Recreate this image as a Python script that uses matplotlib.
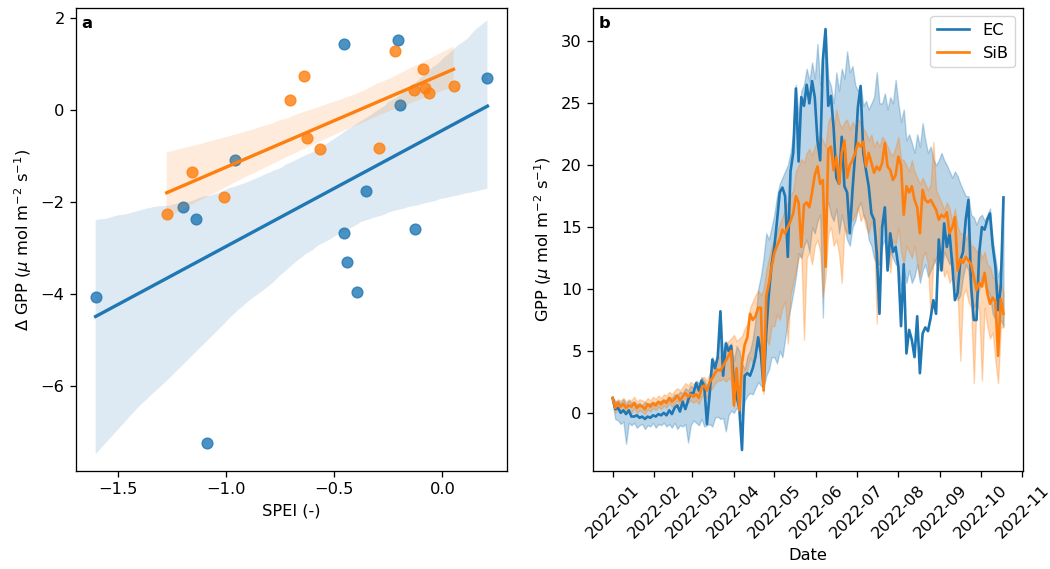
import matplotlib
matplotlib.use("Agg")
import numpy as np
import pandas as pd
import matplotlib.pyplot as plt
import matplotlib.dates as mdates
from matplotlib.ticker import MultipleLocator
import seaborn as sns

# ---------------- Panel a data ----------------
spei_ec = [-0.455, -0.208, 0.208, -0.196, -0.961, -1.20, -1.139, -0.355,
           -0.457, -0.128, -1.605, -0.44, -0.395, -1.089]
dgpp_ec = [1.43, 1.52, 0.70, 0.12, -1.09, -2.10, -2.37, -1.77,
           -2.68, -2.58, -4.06, -3.30, -3.96, -7.25]
spei_sib = [-1.276, -1.157, -1.012, -0.707, -0.640, -0.628, -0.566, -0.293,
            -0.221, -0.088, -0.133, -0.082, -0.062, 0.051]
dgpp_sib = [-2.25, -1.35, -1.89, 0.21, 0.74, -0.61, -0.85, -0.82,
            1.29, 0.90, 0.43, 0.49, 0.38, 0.52]

# ---------------- Panel b data (every 2 days from 2022-01-01) ----------------
start_date = "2022-01-01"
gpp_ec = [
    1.2, 0.3, 0.4, 0.0, 0.2, -0.1, 0.2, -0.3, -0.3, -0.2,
    -0.4, -0.3, -0.5, -0.3, -0.4, -0.2, -0.3, -0.1, -0.2, 0.0,
    -0.2, 0.2, -0.1, 0.4, 0.6, 0.1, 0.9, 0.3, 1.0, 1.6,
    1.6, 2.4, 1.8, 2.6, 2.2, -0.9, 1.5, 4.3, 3.6, 4.5,
    8.2, 3.0, 5.6, 5.0, 5.4, 2.4, 1.3, 0.4, -3.0, 3.0,
    3.2, 3.0, 3.6, 4.5, 6.1, 4.8, 2.1, 6.5, 9.7, 12.0,
    13.4, 15.5, 17.8, 18.2, 17.5, 12.6, 19.5, 21.0, 26.2, 20.3,
    25.5, 24.8, 26.5, 25.0, 26.8, 25.5, 22.0, 20.4, 28.5, 31.0,
    24.8, 25.6, 23.0, 19.0, 18.5, 22.3, 18.3, 17.8, 14.5, 18.0,
    21.0, 24.7, 26.4, 21.0, 19.6, 18.3, 16.1, 15.6, 12.9, 8.0,
    15.0, 16.6, 11.5, 14.5, 13.0, 13.4, 11.8, 7.0, 12.0, 4.8,
    6.7, 5.9, 4.5, 7.8, 3.2, 6.4, 6.9, 6.6, 7.7, 9.1,
    8.0, 14.0, 11.5, 15.3, 13.4, 14.5, 12.0, 9.1, 9.7, 12.3,
    13.0, 15.6, 17.2, 10.2, 7.5, 7.5, 12.9, 15.0, 14.8, 15.6,
    16.1, 13.5, 11.8, 8.3, 10.2, 17.4,
]
gpp_sib = [
    1.2, 0.4, 0.8, 0.5, 0.7, 0.4, 0.6, 0.5, 0.8, 0.4,
    0.6, 0.5, 0.3, 0.7, 0.5, 0.8, 0.6, 0.9, 0.7, 1.0,
    0.8, 1.2, 0.9, 1.1, 1.4, 1.0, 1.3, 1.6, 1.3, 1.5,
    1.3, 1.5, 1.2, 2.0, 2.2, 1.8, 2.5, 2.8, 3.2, 3.5,
    3.4, 3.8, 4.2, 4.6, 5.0, 0.6, 3.6, 0.2, 4.0, 5.5,
    6.1, 8.0, 7.5, 7.8, 8.5, 8.5, 1.8, 9.4, 10.5, 11.8,
    12.9, 13.5, 14.0, 14.8, 14.5, 15.0, 15.5, 16.1, 17.5, 17.0,
    13.4, 16.8, 17.0, 16.6, 17.8, 19.2, 19.9, 18.5, 18.8, 11.8,
    21.3, 21.5, 19.6, 20.7, 18.5, 21.0, 22.0, 19.0, 20.0, 20.4,
    21.0, 21.8, 21.5, 21.9, 19.9, 21.0, 20.2, 19.4, 19.9, 19.6,
    20.2, 21.8, 19.9, 19.6, 18.8, 19.2, 20.7, 20.0, 16.0, 18.3,
    17.8, 18.3, 17.2, 16.6, 14.5, 18.0, 17.2, 17.0, 17.2, 16.8,
    16.4, 15.6, 16.0, 15.8, 16.2, 14.5, 15.0, 15.8, 11.5, 12.4,
    12.1, 12.6, 12.3, 12.0, 11.0, 9.9, 10.5, 10.2, 11.3, 9.7,
    8.8, 9.3, 9.0, 4.6, 9.2, 8.0,
]
ec_hi = [
    1.3, 0.9, 1.0, 0.8, 1.1, 0.7, 1.0, 0.8, 0.9, 0.7,
    0.8, 0.6, 0.9, 0.7, 0.8, 0.6, 0.9, 0.8, 1.0, 0.9,
    1.1, 1.3, 1.2, 1.5, 1.4, 1.7, 1.6, 2.0, 1.8, 2.2,
    2.0, 2.6, 2.4, 2.9, 2.6, 2.2, 2.6, 4.5, 4.0, 4.8,
    8.2, 4.5, 5.8, 5.4, 5.6, 4.2, 5.4, 5.0, 4.0, 3.5,
    4.6, 5.0, 6.0, 7.5, 10.0, 11.0, 12.5, 14.5, 14.0, 15.0,
    16.0, 17.5, 18.5, 19.0, 19.5, 20.0, 21.0, 22.5, 26.5, 24.0,
    26.0, 26.5, 27.8, 26.8, 28.3, 27.0, 29.8, 26.5, 29.0, 31.0,
    27.0, 26.4, 25.0, 27.5, 26.0, 27.8, 27.0, 29.2, 27.5, 28.0,
    26.5, 26.0, 26.5, 24.8, 25.2, 24.5, 25.0, 25.5, 27.5, 25.0,
    25.0, 25.8, 24.5, 25.5, 25.0, 26.9, 25.0, 23.5, 24.5, 22.0,
    22.5, 21.8, 21.0, 22.5, 21.5, 23.4, 22.0, 21.0, 21.5, 20.5,
    20.0, 20.4, 21.0, 20.4, 20.0, 19.5, 19.0, 19.5, 19.1, 18.5,
    18.0, 17.5, 17.5, 16.0, 15.8, 15.2, 15.8, 16.0, 15.5, 16.0,
    16.5, 14.0, 12.5, 11.0, 12.0, 17.5,
]
ec_lo = [
    0.8, -0.5, -0.6, -0.9, -0.7, -2.5, -0.8, -1.0, -0.8, -1.2,
    -1.0, -0.9, -1.3, -1.0, -1.1, -0.8, -1.2, -0.9, -1.0, -0.8,
    -1.1, -0.9, -1.2, -0.8, -1.3, -1.0, -1.1, -0.9, -2.4, -1.0,
    -0.6, -0.8, -1.0, -0.5, -1.1, -1.0, -0.9, -1.1, -0.4, -0.3,
    -0.5, -0.4, -1.5, -0.2, 0.2, 0.0, 0.4, 0.2, -0.5, 1.0,
    1.4, 1.6, 1.5, 2.0, 2.5, 2.2, 2.0, 3.0, 3.5, 4.5,
    4.5, 4.0, 5.0, 4.5, 6.0, 7.5, 8.5, 9.7, 11.0, 12.9,
    12.5, 13.5, 14.0, 13.0, 15.0, 14.5, 15.5, 16.0, 7.7, 16.5,
    17.0, 16.0, 15.5, 16.5, 14.5, 16.0, 15.0, 14.0, 13.5, 15.0,
    15.5, 16.5, 17.0, 16.0, 15.5, 14.0, 13.5, 12.5, 12.0, 12.0,
    13.5, 14.0, 11.5, 13.0, 12.5, 12.0, 11.8, 10.0, 11.5, 10.5,
    11.5, 10.5, 11.0, 12.0, 10.5, 11.5, 12.0, 11.0, 11.5, 12.0,
    12.5, 13.0, 11.5, 13.0, 12.5, 12.0, 12.5, 11.0, 9.1, 9.5,
    11.0, 12.0, 11.5, 9.5, 8.5, 9.0, 10.0, 11.0, 10.5, 10.0,
    9.5, 8.0, 7.5, 7.0, 7.5, 7.0,
]
sib_hi = [
    1.3, 0.9, 1.1, 1.0, 1.2, 0.9, 1.1, 1.0, 1.3, 0.9,
    1.1, 1.0, 0.9, 1.2, 1.0, 1.3, 1.1, 1.4, 1.2, 1.5,
    1.4, 1.7, 1.5, 1.8, 2.0, 1.8, 2.1, 2.4, 2.2, 2.5,
    2.3, 2.5, 2.4, 2.8, 2.9, 2.6, 3.2, 3.6, 4.0, 4.4,
    4.6, 5.0, 5.5, 5.8, 6.0, 6.3, 5.8, 6.0, 6.2, 6.8,
    7.2, 8.5, 9.0, 9.5, 9.9, 9.5, 10.0, 11.5, 12.5, 13.5,
    14.0, 14.5, 15.3, 15.8, 16.5, 17.0, 17.5, 18.0, 19.5, 20.0,
    20.5, 20.2, 21.0, 21.3, 20.8, 21.5, 22.0, 22.5, 22.0, 21.5,
    23.5, 24.0, 23.0, 24.5, 23.5, 23.0, 23.5, 23.7, 22.9, 23.5,
    23.0, 23.7, 23.5, 23.0, 22.6, 22.0, 22.5, 21.5, 22.0, 21.5,
    22.3, 22.0, 21.5, 21.0, 20.8, 21.5, 22.3, 20.5, 20.4, 20.0,
    19.5, 20.4, 19.5, 19.0, 18.5, 19.0, 18.5, 18.0, 18.5, 21.9,
    18.0, 17.5, 17.0, 16.4, 17.0, 16.5, 15.5, 16.5, 15.0, 14.5,
    14.5, 14.0, 14.5, 13.5, 13.4, 13.0, 13.4, 12.5, 13.0, 12.0,
    11.8, 11.0, 10.8, 10.2, 10.5, 9.7,
]
sib_lo = [
    1.1, 0.0, 0.5, 0.1, 0.3, 0.0, 0.2, 0.0, 0.4, 0.0,
    0.2, 0.1, -0.1, 0.3, 0.1, 0.4, 0.2, 0.5, 0.3, 0.6,
    0.4, 0.8, 0.5, 0.7, 1.0, 0.6, 0.9, 1.2, 0.8, 1.0,
    0.8, 1.0, 0.7, 1.3, 1.5, 1.2, 1.8, 2.0, 2.4, 2.6,
    2.6, 2.8, 2.5, 2.8, 2.6, 0.4, 2.0, 0.0, 2.4, 3.0,
    3.5, 4.5, 4.0, 5.0, 5.5, 5.0, 1.5, 6.0, 5.5, 7.0,
    7.0, 8.0, 7.5, 8.5, 9.0, 5.6, 9.5, 10.5, 11.5, 12.5,
    12.9, 5.9, 12.5, 13.0, 12.0, 13.5, 14.0, 13.0, 9.4, 11.0,
    14.5, 15.0, 13.5, 14.0, 12.9, 10.5, 15.0, 14.5, 16.0, 15.5,
    16.0, 16.6, 15.5, 16.0, 15.0, 14.5, 15.5, 14.5, 7.2, 15.0,
    15.0, 16.0, 14.5, 11.3, 14.0, 13.5, 15.0, 13.0, 12.0, 13.5,
    13.0, 12.5, 13.5, 12.0, 11.0, 12.5, 13.0, 12.0, 7.5, 12.5,
    12.0, 11.5, 12.5, 11.0, 11.5, 10.5, 11.0, 10.0, 9.5, 4.2,
    9.5, 10.0, 9.0, 8.5, 2.4, 9.0, 8.3, 2.6, 8.5, 7.0,
    6.0, 6.5, 4.2, 2.4, 6.9, 6.9,
]

dates = pd.date_range(start_date, periods=len(gpp_ec), freq="2D")

sc = 1.17
plt.rcParams.update({
    "font.size": 10 * sc,
    "axes.linewidth": 0.8 * sc,
    "xtick.major.size": 3.5 * sc,
    "ytick.major.size": 3.5 * sc,
    "xtick.major.width": 0.8 * sc,
    "ytick.major.width": 0.8 * sc,
    "xtick.major.pad": 3.5 * sc,
    "ytick.major.pad": 3.5 * sc,
    "axes.labelpad": 4.0 * sc,
})

fig = plt.figure(figsize=(10.5, 5.69), dpi=100)
ax1 = fig.add_axes([0.0724, 0.1722, 0.4105, 0.8137])
ax2 = fig.add_axes([0.5648, 0.1722, 0.4095, 0.8137])

# Panel a
sns.regplot(x=np.array(spei_ec), y=np.array(dgpp_ec), ax=ax1, color="C0", seed=0,
            scatter_kws={"s": 60}, line_kws={"lw": 2.4})
sns.regplot(x=np.array(spei_sib), y=np.array(dgpp_sib), ax=ax1, color="C1", seed=0,
            scatter_kws={"s": 60}, line_kws={"lw": 2.4})
ax1.xaxis.set_major_locator(MultipleLocator(0.5))
ax1.set_ylim(-7.85, 2.22)
ax1.set_xlabel("SPEI (-)")
ax1.set_ylabel(r"Δ GPP ($\mu$ mol m$^{-2}$ s$^{-1}$)")
ax1.text(0.012, 0.982, "a", transform=ax1.transAxes, fontweight="bold",
         ha="left", va="top")

# Panel b
ax2.fill_between(dates, ec_lo, ec_hi, color="C0", alpha=0.3)
ax2.fill_between(dates, sib_lo, sib_hi, color="C1", alpha=0.3)
ax2.plot(dates, gpp_ec, color="C0", lw=1.9, label="EC")
ax2.plot(dates, gpp_sib, color="C1", lw=1.9, label="SiB")
ax2.xaxis.set_major_locator(mdates.MonthLocator())
ax2.xaxis.set_major_formatter(mdates.DateFormatter("%Y-%m"))
plt.setp(ax2.get_xticklabels(), rotation=45)
ax2.set_xlabel("Date")
ax2.set_ylabel(r"GPP ($\mu$ mol m$^{-2}$ s$^{-1}$)")
ax2.legend(loc="upper right")
ax2.text(0.012, 0.982, "b", transform=ax2.transAxes, fontweight="bold",
         ha="left", va="top")

fig.savefig("out.png", dpi=100)
